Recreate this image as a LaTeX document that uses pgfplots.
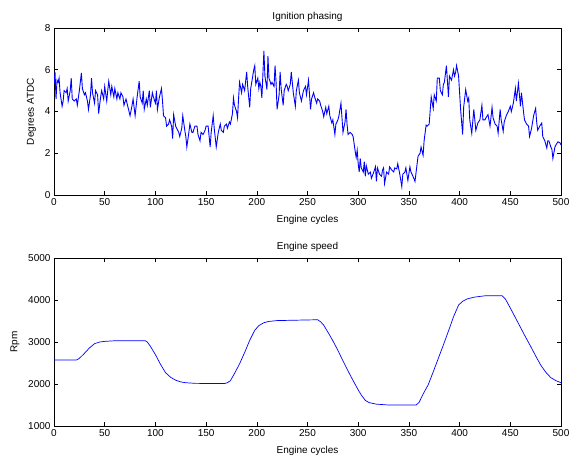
\documentclass[border=0pt]{standalone}
\usepackage{fontspec}
\setmainfont{Liberation Sans}
\usepackage{pgfplots}
\pgfplotsset{compat=1.18}
\begin{document}
\begin{tikzpicture}
\path[use as bounding box] (0,0) rectangle (570pt,459pt);
\pgfplotsset{
  mstyle/.style={
    scale only axis, width=507pt,
    font=\fontsize{10}{12}\selectfont,
    tick label style={font=\fontsize{10}{12}\selectfont},
    /pgf/number format/assume math mode=true,
    /pgf/number format/1000 sep={},
    tick align=inside, xtick pos=both, ytick pos=both,
    major tick length=4pt,
    axis line style={line width=0.8pt},
    every tick/.style={black, line width=0.6pt},
    xmin=0, xmax=500, xtick={0,50,...,500},
    xlabel={Engine cycles},
    xlabel style={yshift=-3pt},
    title style={yshift=-3pt},
  }
}
\begin{axis}[mstyle, at={(54pt,264pt)}, anchor=south west, height=167pt,
  ymin=0, ymax=8, ytick={0,2,4,6,8},
  title={Ignition phasing}, ylabel={Degrees ATDC}, ylabel style={yshift=2pt}]
\addplot[blue, line width=0.9pt] coordinates {
(0,5.3)(1,5.9)(2,4.6)(3,5.5)(4,5.4)(5,5.6)(6,4.9)(8,4.25)(9,4.5)(10,5.0)(12,4.9)(13,5.1)(14,4.5)(16,5.0)(17,5.6)(18,4.6)(20,4.5)(22,4.6)(23,4.3)(25,5.0)(27,5.85)(28,5.1)(30,4.8)(31,4.9)(33,4.5)(34,4.1)(36,4.8)(37,5.6)(38,4.9)(40,4.4)(41,5.0)(43,4.8)(44,3.9)(46,4.7)(47,5.0)(49,4.6)(50,5.2)(52,4.5)(53,5.0)(54,5.45)(56,4.8)(57,5.2)(59,4.7)(60,5.1)(62,4.6)(63,4.9)(65,4.6)(66,4.9)(68,4.7)(69,4.3)(71,4.6)(72,4.4)(74,4.0)(75,3.8)(77,4.3)(78,4.6)(79,4.2)(80,3.8)(82,4.7)(84,5.45)(85,4.7)(87,4.4)(88,5.0)(89,4.1)(91,4.6)(92,4.3)(94,5.0)(95,4.2)(97,4.9)(98,4.7)(100,4.4)(101,5.0)(102,4.1)(104,4.7)(106,5.1)(107,4.5)(108,3.8)(110,3.7)(111,3.3)(113,3.4)(114,3.6)(116,3.3)(117,2.7)(118,3.85)(120,3.3)(121,3.2)(123,3.0)(124,2.8)(126,3.2)(127,3.8)(129,3.1)(130,2.8)(131,2.3)(133,3.0)(134,3.4)(136,3.0)(137,3.0)(139,3.3)(141,3.3)(142,2.9)(144,2.6)(145,3.0)(147,2.9)(149,3.1)(150,3.3)(152,3.3)(154,2.3)(155,3.0)(157,3.8)(158,3.2)(160,2.3)(162,3.0)(164,3.4)(165,3.1)(167,3.0)(168,3.3)(170,3.4)(171,3.2)(173,3.5)(174,3.4)(176,3.9)(177,4.65)(178,4.3)(180,4.0)(181,3.7)(182,4.6)(183,5.4)(185,4.9)(186,5.3)(188,5.0)(190,5.9)(191,5.2)(193,4.2)(194,5.1)(196,5.7)(197,6.0)(198,6.2)(199,5.3)(201,5.6)(202,5.1)(203,5.4)(204,5.2)(205,4.65)(207,6.9)(208,5.7)(210,5.05)(211,6.65)(212,5.6)(214,5.3)(215,5.4)(217,5.2)(218,6.2)(219,5.4)(220,4.1)(222,4.8)(223,5.9)(224,5.1)(226,4.3)(227,5.0)(229,5.3)(230,5.2)(231,5.0)(233,5.3)(234,5.9)(236,4.9)(238,4.25)(239,5.0)(241,5.5)(242,4.9)(244,4.5)(246,5.0)(248,5.2)(249,4.8)(251,5.5)(253,4.1)(254,4.6)(256,4.9)(257,4.7)(259,4.4)(260,4.6)(262,4.5)(263,4.3)(265,4.0)(266,3.75)(268,4.2)(269,3.9)(271,4.25)(272,3.8)(274,3.45)(275,3.6)(277,2.9)(278,3.4)(280,3.6)(281,3.8)(283,4.4)(284,3.7)(285,3.0)(287,3.5)(288,4.1)(289,3.4)(290,2.9)(292,3.0)(294,2.9)(295,2.8)(297,2.1)(298,1.8)(299,2.15)(300,1.5)(301,1.1)(302,1.75)(303,1.3)(305,1.1)(306,1.6)(307,0.9)(308,1.4)(310,1.0)(312,1.1)(313,0.8)(315,1.05)(317,1.35)(318,0.65)(319,1.3)(321,1.0)(323,0.9)(324,1.2)(325,1.3)(326,0.55)(328,1.1)(330,1.0)(331,1.35)(333,1.2)(335,1.1)(336,1.3)(338,1.25)(339,1.5)(341,1.0)(343,0.4)(344,1.0)(346,1.1)(347,1.3)(349,0.7)(351,1.35)(352,1.1)(354,0.9)(356,0.65)(357,1.05)(359,1.85)(361,2.0)(362,2.3)(364,1.9)(365,2.6)(367,3.35)(368,3.3)(370,3.4)(372,4.7)(374,4.15)(375,4.8)(377,4.5)(378,5.6)(380,5.6)(381,5.0)(383,4.8)(384,5.3)(385,5.4)(387,6.2)(389,4.7)(390,5.7)(392,5.5)(394,6.0)(395,5.7)(396,5.85)(397,6.2)(399,5.7)(400,4.9)(401,4.1)(403,2.9)(404,4.2)(406,5.05)(408,4.5)(409,4.65)(410,3.6)(412,2.95)(414,4.1)(416,3.1)(418,3.45)(420,3.6)(422,4.3)(423,3.6)(425,3.6)(426,3.7)(428,3.85)(430,3.3)(432,4.2)(433,3.7)(435,3.4)(437,3.3)(438,2.96)(440,4.1)(441,3.6)(443,3.05)(444,3.5)(446,3.8)(448,4.0)(450,4.25)(451,4.0)(453,4.4)(455,5.1)(456,4.5)(458,5.35)(459,4.8)(460,4.25)(461,4.9)(463,4.0)(464,3.6)(466,3.4)(468,3.3)(469,2.8)(471,3.2)(473,3.8)(475,4.15)(476,3.5)(477,3.1)(479,3.3)(481,3.45)(482,2.8)(484,2.6)(486,2.25)(487,2.6)(488,2.6)(490,2.3)(491,2.2)(492,1.75)(494,2.3)(495,2.4)(497,2.55)(499,2.5)(500,2.4)
};
\end{axis}
\begin{axis}[mstyle, at={(54pt,33pt)}, anchor=south west, height=168pt,
  ymin=1000, ymax=5000, ytick={1000,2000,3000,4000,5000},
  title={Engine speed}, ylabel={Rpm}, ylabel style={yshift=2pt}]
\addplot[blue, line width=0.7pt] coordinates {
(0,2570)(22,2570)(25,2610)(30,2730)(35,2860)(40,2960)(45,3000)(50,3015)(60,3030)(90,3030)(92,3000)(95,2900)(100,2700)(105,2470)(110,2270)(115,2160)(120,2090)(125,2050)(130,2030)(140,2015)(168,2010)(171,2030)(174,2080)(178,2250)(183,2480)(188,2750)(193,3040)(198,3280)(202,3390)(207,3460)(212,3490)(220,3510)(240,3520)(260,3530)(263,3480)(266,3400)(270,3240)(275,3030)(280,2800)(285,2550)(290,2310)(295,2080)(300,1860)(303,1740)(307,1610)(311,1555)(318,1520)(330,1500)(357,1500)(360,1560)(364,1760)(369,1980)(374,2290)(379,2610)(384,2930)(389,3260)(394,3600)(399,3880)(403,3970)(408,4030)(415,4070)(425,4100)(442,4100)(445,4030)(450,3810)(455,3580)(460,3350)(465,3120)(470,2900)(475,2670)(480,2450)(485,2280)(490,2150)(495,2080)(500,2030)
};
\end{axis}
\end{tikzpicture}
\end{document}
